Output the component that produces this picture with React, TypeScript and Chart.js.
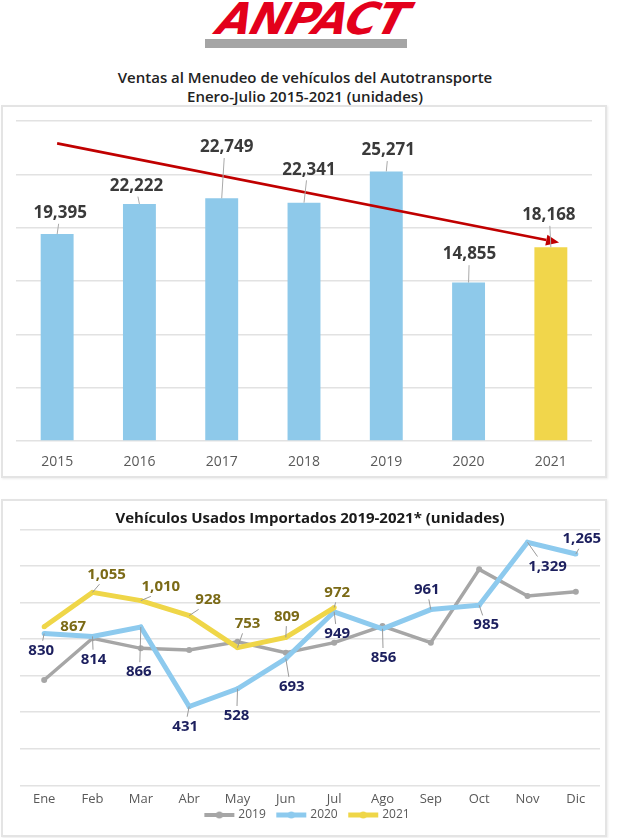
import React, { useEffect, useRef } from "react";
import { Chart, registerables } from "chart.js";

Chart.register(...registerables);

// ---------- Data ----------
const BAR_YEARS = ["2015", "2016", "2017", "2018", "2019", "2020", "2021"];
const BAR_SALES = [19395, 22222, 22749, 22341, 25271, 14855, 18168];
const BAR_Y_MAX = 30000;
const BAR_Y_STEP = 5000;
const TREND_FROM = { index: 0, value: 27900 };
const TREND_TO = { index: 6.1, value: 18600 };

const MONTHS = ["Ene", "Feb", "Mar", "Abr", "May", "Jun", "Jul", "Ago", "Sep", "Oct", "Nov", "Dic"];
const IMPORTS_2019 = [576, 804, 749, 740, 785, 725, 780, 871, 780, 1181, 1035, 1059];
const IMPORTS_2020 = [830, 814, 866, 431, 528, 693, 949, 856, 961, 985, 1329, 1265];
const IMPORTS_2021 = [867, 1055, 1010, 928, 753, 809, 972];
const LINE_Y_MAX = 1400;
const LINE_Y_STEP = 200;

// ---------- Styles ----------
const FONT = '"Open Sans", sans-serif';
const BLUE = "#8ec9ea";
const YELLOW = "#f1d64b";
const GRAY = "#a6a6a6";
const LINE_BLUE = "#8dcaee";
const LINE_YELLOW = "#efd648";

// label offsets (px from the mark to label centre)
const BAR_LABEL_OFFSETS = [[3, -21], [-3, -18], [5, -51], [5, -33], [2, -21], [1, -28], [-2, -32]];
const LABEL_OFFSETS_2020 = [[-3, 17], [1, 23], [-2, 45], [-4, 20], [-1, 27], [6, 28], [3, 22], [1, 29], [-4, -20], [7, 20], [20, 24], [6, -15]];
const LABEL_OFFSETS_2021 = [[29, 0], [14, -18], [20, -14], [19, -16], [10, -24], [1, -21], [3, -15]];
const LEGEND_TOP = 301.5; // legend box top inside the line-chart canvas
const LEGEND_DX = -2;

const fmt = (v: number) => v.toLocaleString("en-US");

const leaderLabelPlugin = {
  id: "leaderLabels",
  afterDatasetsDraw(chart: any) {
    const ctx = chart.ctx;
    chart.data.datasets.forEach((ds: any, di: number) => {
      const st = ds.leaderLabels;
      if (!st) return;
      const meta = chart.getDatasetMeta(di);
      ctx.save();
      ctx.font = `bold ${st.size}px ${FONT}`;
      ctx.textAlign = "center";
      ctx.textBaseline = "middle";
      meta.data.forEach((el: any, i: number) => {
        const v = ds.data[i];
        if (v == null) return;
        const off = st.offsets[i] || [0, -st.size];
        const dx = off[0], dy = off[1];
        const lx = el.x + dx, ly = el.y + dy;
        const half = st.size * 0.45;
        if (Math.abs(dy) > half + 6) {
          const sign = dy < 0 ? -1 : 1;
          ctx.strokeStyle = st.leaderColor;
          ctx.lineWidth = 1;
          ctx.beginPath();
          ctx.moveTo(el.x, el.y);
          ctx.lineTo(el.x + dx * 0.5, ly - sign * (half + 3));
          ctx.stroke();
        }
        ctx.fillStyle = st.color;
        ctx.fillText(fmt(v), lx, ly);
      });
      ctx.restore();
    });
  },
};

const trendArrowPlugin = {
  id: "trendArrow",
  afterDatasetsDraw(chart: any) {
    const { ctx, scales } = chart;
    const x0 = scales.x.getPixelForValue(TREND_FROM.index);
    const y0 = scales.y.getPixelForValue(TREND_FROM.value);
    const x1 = scales.x.getPixelForValue(TREND_TO.index);
    const y1 = scales.y.getPixelForValue(TREND_TO.value);
    const ang = Math.atan2(y1 - y0, x1 - x0);
    const headLen = 13, headW = 5.5;
    const bx = x1 - Math.cos(ang) * headLen, by = y1 - Math.sin(ang) * headLen;
    ctx.save();
    ctx.strokeStyle = "#c00000";
    ctx.fillStyle = "#c00000";
    ctx.lineWidth = 2.6;
    ctx.beginPath();
    ctx.moveTo(x0, y0);
    ctx.lineTo(bx, by);
    ctx.stroke();
    ctx.beginPath();
    ctx.moveTo(x1, y1);
    ctx.lineTo(bx + Math.sin(ang) * headW, by - Math.cos(ang) * headW);
    ctx.lineTo(bx - Math.sin(ang) * headW, by + Math.cos(ang) * headW);
    ctx.closePath();
    ctx.fill();
    ctx.restore();
  },
};

const legendPlacePlugin = {
  id: "legendPlace",
  afterLayout(chart: any) {
    const lg = chart.legend;
    if (!lg) return;
    const h = lg.height;
    lg.top = LEGEND_TOP;
    lg.bottom = LEGEND_TOP + h;
    lg.left += LEGEND_DX;
    lg.right += LEGEND_DX;
  },
};

function legendSwatch(color: string, lineWidth: number, radius: number) {
  const c = document.createElement("canvas");
  c.width = 32;
  c.height = 10;
  const g = c.getContext("2d")!;
  g.strokeStyle = color;
  g.lineWidth = lineWidth;
  g.beginPath();
  g.moveTo(1, 5);
  g.lineTo(31, 5);
  g.stroke();
  g.fillStyle = color;
  g.beginPath();
  g.arc(16, 5, radius, 0, Math.PI * 2);
  g.fill();
  return c;
}

function BarChart() {
  const ref = useRef<HTMLCanvasElement>(null);
  useEffect(() => {
    const chart = new Chart(ref.current!, {
      type: "bar",
      data: {
        labels: BAR_YEARS,
        datasets: [
          {
            data: BAR_SALES,
            backgroundColor: BAR_YEARS.map((_, i) => (i === BAR_YEARS.length - 1 ? YELLOW : BLUE)),
            barPercentage: 0.4,
            categoryPercentage: 1,
            leaderLabels: { size: 17, color: "#3a3a3a", leaderColor: "#a9a9a9", offsets: BAR_LABEL_OFFSETS },
          } as any,
        ],
      },
      options: {
        responsive: false,
        animation: false,
        layout: { padding: { left: 16, right: 37, top: 21, bottom: 9 } },
        plugins: { legend: { display: false }, tooltip: { enabled: false }, title: { display: false } },
        scales: {
          x: {
            grid: { display: false, drawTicks: false },
            border: { display: false },
            ticks: { color: "#595959", font: { family: FONT, size: 14 }, padding: 12.6 },
            afterFit: (s: any) => {
              s.height = 30;
            },
          },
          y: {
            min: 0,
            max: BAR_Y_MAX,
            ticks: { display: false, stepSize: BAR_Y_STEP },
            grid: { color: "#e2e2e2", lineWidth: 1.5, drawTicks: false },
            border: { display: false },
          },
        },
      },
      plugins: [trendArrowPlugin, leaderLabelPlugin],
    } as any);
    return () => chart.destroy();
  }, []);
  return <canvas ref={ref} width={629} height={380} style={{ position: "absolute", left: 0, top: 100 }} />;
}

function LineChart() {
  const ref = useRef<HTMLCanvasElement>(null);
  useEffect(() => {
    const swatches = [legendSwatch(GRAY, 4, 3.5), legendSwatch(LINE_BLUE, 5, 3.5), legendSwatch(LINE_YELLOW, 5, 3.5)];
    const chart = new Chart(ref.current!, {
      type: "line",
      data: {
        labels: MONTHS,
        datasets: [
          {
            label: "2019",
            data: IMPORTS_2019,
            borderColor: GRAY,
            backgroundColor: GRAY,
            borderWidth: 3.5,
            pointRadius: 3,
            pointBorderWidth: 0,
            pointBackgroundColor: GRAY,
            order: 2,
          },
          {
            label: "2020",
            data: IMPORTS_2020,
            borderColor: LINE_BLUE,
            backgroundColor: LINE_BLUE,
            borderWidth: 5,
            pointRadius: 2.5,
            pointBorderWidth: 0,
            pointBackgroundColor: LINE_BLUE,
            order: 1,
            leaderLabels: { size: 15, color: "#1c1f5e", leaderColor: "#9a9a9a", offsets: LABEL_OFFSETS_2020 },
          },
          {
            label: "2021",
            data: IMPORTS_2021,
            borderColor: LINE_YELLOW,
            backgroundColor: LINE_YELLOW,
            borderWidth: 5,
            pointRadius: 2.5,
            pointBorderWidth: 0,
            pointBackgroundColor: LINE_YELLOW,
            order: 0,
            leaderLabels: { size: 15, color: "#7b6a16", leaderColor: "#9a9a9a", offsets: LABEL_OFFSETS_2021 },
          },
        ] as any,
      },
      options: {
        responsive: false,
        animation: false,
        layout: { padding: { left: 20, right: 29, top: 0, bottom: 0.7 } },
        plugins: {
          tooltip: { enabled: false },
          title: {
            display: true,
            text: "Vehículos Usados Importados 2019-2021* (unidades)",
            color: "#1a1a1a",
            font: { family: FONT, size: 15, weight: "bold" },
            padding: { top: 15, bottom: 1.3 },
          },
          legend: {
            display: true,
            position: "bottom",
            labels: {
              usePointStyle: true,
              pointStyleWidth: 26,
              padding: 12.5,
              color: "#595959",
              font: { family: FONT, size: 12 },
              sort: (a: any, b: any) => a.datasetIndex - b.datasetIndex,
              generateLabels: (ch: any) => {
                const items = Chart.defaults.plugins.legend.labels.generateLabels(ch);
                return items.map((it: any) => ({ ...it, pointStyle: swatches[it.datasetIndex] }));
              },
            },
          },
        },
        scales: {
          x: {
            offset: true,
            grid: { display: false, drawTicks: false },
            border: { display: false },
            ticks: { color: "#595959", font: { family: FONT, size: 13 }, padding: 5.9 },
            afterFit: (s: any) => {
              s.height = 21.5;
            },
          },
          y: {
            min: 0,
            max: LINE_Y_MAX,
            ticks: { display: false, stepSize: LINE_Y_STEP },
            grid: { color: "#e2e2e2", lineWidth: 1.5, drawTicks: false },
            border: { display: false },
          },
        },
      },
      plugins: [leaderLabelPlugin, legendPlacePlugin],
    } as any);
    return () => chart.destroy();
  }, []);
  return <canvas ref={ref} width={629} height={347} style={{ position: "absolute", left: 0, top: 495 }} />;
}

export default function App() {
  return (
    <div
      style={{
        position: "absolute",
        left: 0,
        top: 0,
        width: 629,
        height: 838,
        overflow: "hidden",
        background: "#ffffff",
        fontFamily: FONT,
      }}
    >
      {/* Logo */}
      <div
        style={{
          position: "absolute",
          left: 219,
          top: -3,
          fontFamily: '"DejaVu Sans", sans-serif',
          fontWeight: 900,
          fontStyle: "italic",
          fontSize: 44,
          lineHeight: "44px",
          color: "#e3001b",
          letterSpacing: -1,
          transform: "skewX(-16deg)",
          whiteSpace: "nowrap",
        }}
      >
        ANPACT
      </div>
      <div style={{ position: "absolute", left: 205, top: 39, width: 202, height: 9, background: "#a5a5a5" }} />

      {/* Title */}
      <div
        style={{
          position: "absolute",
          left: 0,
          top: 68,
          width: 610,
          textAlign: "center",
          fontSize: 15,
          fontWeight: 600,
          lineHeight: "19px",
          color: "#222222",
        }}
      >
        Ventas al Menudeo de vehículos del Autotransporte
        <br />
        Enero-Julio 2015-2021 (unidades)
      </div>

      {/* Panels */}
      <div
        style={{
          position: "absolute",
          left: 1,
          top: 105,
          width: 606,
          height: 373,
          border: "2px solid #e4e4e4",
          boxSizing: "border-box",
          boxShadow: "1px 1px 2px rgba(0,0,0,0.08)",
        }}
      />
      <div
        style={{
          position: "absolute",
          left: 1,
          top: 499,
          width: 606,
          height: 338,
          border: "2px solid #e4e4e4",
          boxSizing: "border-box",
          boxShadow: "1px 1px 2px rgba(0,0,0,0.08)",
        }}
      />

      <BarChart />
      <LineChart />
    </div>
  );
}
